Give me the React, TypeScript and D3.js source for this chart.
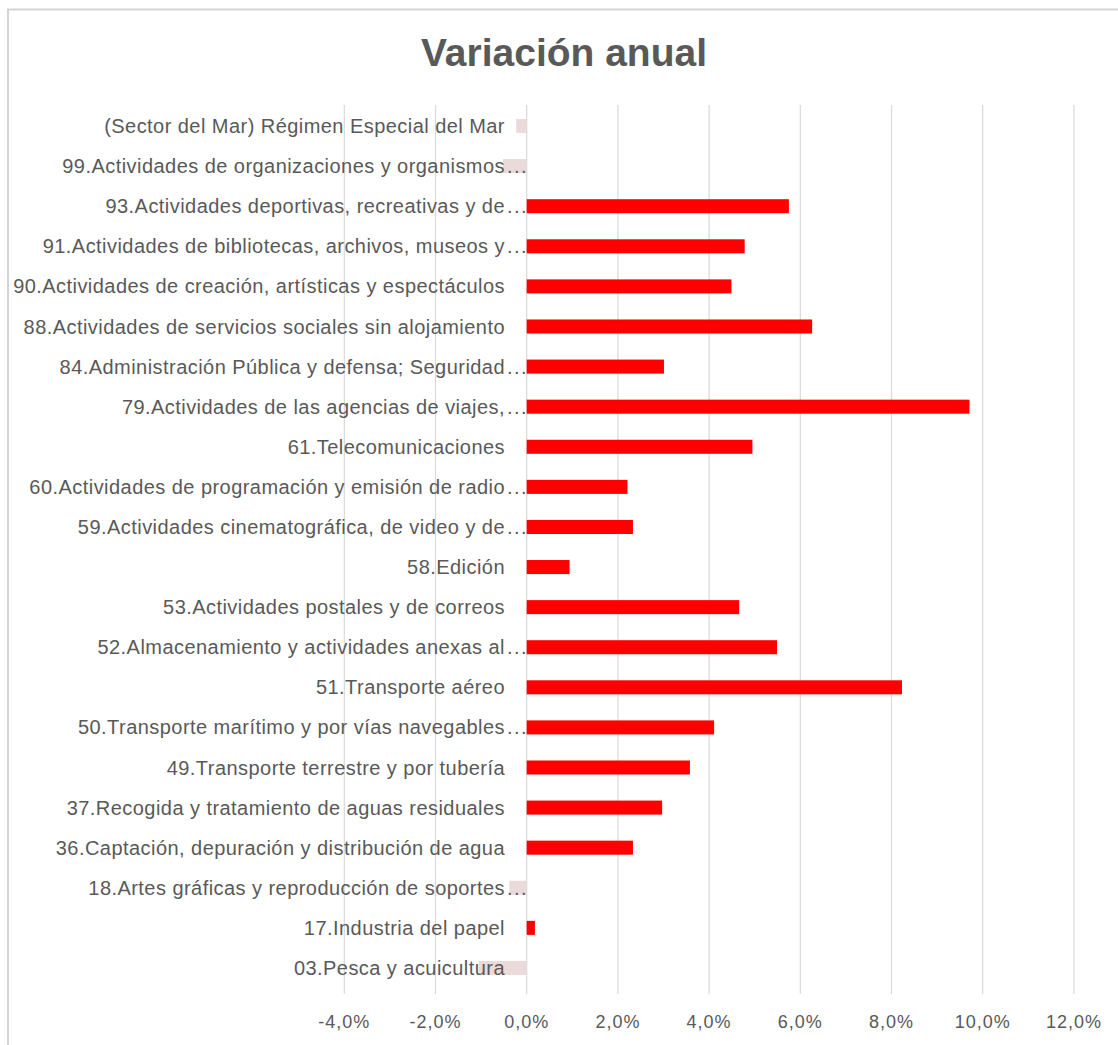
import React from "react";
import * as d3 from "d3";

const categories = [
  "(Sector del Mar) Régimen Especial del Mar",
  "99.Actividades de organizaciones y organismos...",
  "93.Actividades deportivas, recreativas y de...",
  "91.Actividades de bibliotecas, archivos, museos y...",
  "90.Actividades de creación, artísticas y espectáculos",
  "88.Actividades de servicios sociales sin alojamiento",
  "84.Administración Pública y defensa; Seguridad...",
  "79.Actividades de las agencias de viajes,...",
  "61.Telecomunicaciones",
  "60.Actividades de programación y emisión de radio...",
  "59.Actividades cinematográfica, de video y de...",
  "58.Edición",
  "53.Actividades postales y de correos",
  "52.Almacenamiento y actividades anexas al...",
  "51.Transporte aéreo",
  "50.Transporte marítimo y por vías navegables...",
  "49.Transporte terrestre y por tubería",
  "37.Recogida y tratamiento de aguas residuales",
  "36.Captación, depuración y distribución de agua",
  "18.Artes gráficas y reproducción de soportes...",
  "17.Industria del papel",
  "03.Pesca y acuicultura",
];

const values = [
  -0.23, -0.52, 5.75, 4.78, 4.49, 6.26, 3.01, 9.71, 4.95, 2.21, 2.33, 0.94,
  4.66, 5.49, 8.23, 4.11, 3.58, 2.97, 2.33, -0.38, 0.18, -1.05,
];

const ticks = [-4, -2, 0, 2, 4, 6, 8, 10, 12];

const W = 1118;
const H = 1045;

export default function App() {
  const x = d3.scaleLinear().domain([-4, 12]).range([344.3, 1073.9]);
  const y = d3
    .scaleBand<string>()
    .domain(categories)
    .range([106, 988])
    .paddingInner(0.65)
    .paddingOuter(0.325);
  const fmt = (v: number) => v.toFixed(1).replace(".", ",") + "%";
  const labelFont = "'Liberation Sans', Arial, sans-serif";
  const textColor = "#595959";
  const labelX = 505;

  return (
    <svg
      width={W}
      height={H}
      style={{ position: "absolute", left: 0, top: 0, background: "#fff" }}
    >
      <rect x={0} y={0} width={W} height={H} fill="#fff" />
      <rect
        x={8}
        y={9.5}
        width={W + 10}
        height={H + 10}
        fill="none"
        stroke="#d4d4d4"
        strokeWidth={2}
      />
      <text
        x={564}
        y={66}
        textAnchor="middle"
        fontFamily={labelFont}
        fontWeight="bold"
        fontSize={38}
        fill={textColor}
        textLength={286}
        lengthAdjust="spacingAndGlyphs"
      >
        Variación anual
      </text>
      {ticks.map((t) => (
        <g key={t}>
          <line
            x1={x(t)}
            x2={x(t)}
            y1={105}
            y2={994}
            stroke="#d9d9d9"
            strokeWidth={1.2}
          />
          <text
            x={x(t)}
            y={1022}
            textAnchor="middle"
            dominantBaseline="central"
            fontFamily={labelFont}
            fontSize={18}
            letterSpacing={1}
            fill={textColor}
          >
            {fmt(t)}
          </text>
        </g>
      ))}
      {categories.map((c, i) => {
        const v = values[i];
        const y0 = y(c)!;
        const bw = y.bandwidth();
        return (
          <rect
            key={"b" + i}
            x={Math.min(x(0), x(v))}
            y={y0}
            width={Math.abs(x(v) - x(0))}
            height={bw}
            fill={v >= 0 ? "#ff0000" : "#e8d4d4"}
            fillOpacity={v >= 0 ? 1 : 0.85}
          />
        );
      })}
      {categories.map((c, i) => {
        const cy = y(c)! + y.bandwidth() / 2;
        const trunc = c.endsWith("...");
        const base = trunc ? c.slice(0, -3) : c;
        return (
          <g key={"l" + i}>
            <text
              x={labelX}
              y={cy}
              textAnchor="end"
              dominantBaseline="central"
              fontFamily={labelFont}
              fontSize={20}
              letterSpacing={0.45}
              fill={textColor}
            >
              {base}
            </text>
            {trunc && (
              <text
                x={labelX + 2}
                y={cy}
                textAnchor="start"
                dominantBaseline="central"
                fontFamily={labelFont}
                fontSize={20}
                fill={textColor}
                letterSpacing={1.5}
              >
                ...
              </text>
            )}
          </g>
        );
      })}
    </svg>
  );
}
